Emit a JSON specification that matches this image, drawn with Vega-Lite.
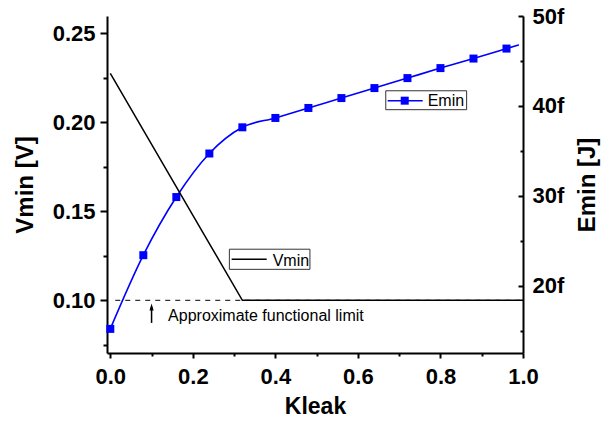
{
  "$schema": "https://vega.github.io/schema/vega-lite/v6.json",
  "width": 416,
  "height": 337,
  "autosize": {"type": "none"},
  "padding": {"left": 107, "top": 16, "right": 87, "bottom": 76},
  "background": "white",
  "config": {
    "view": {"stroke": null},
    "font": "Liberation Sans",
    "axis": {
      "grid": false,
      "domainColor": "black",
      "domainWidth": 2,
      "tickColor": "black",
      "tickWidth": 2,
      "labelFont": "Liberation Sans",
      "labelFontWeight": "bold",
      "labelFontSize": 22,
      "labelColor": "black",
      "labelFlush": false,
      "labelOverlap": false,
      "titleFont": "Liberation Sans",
      "titleFontWeight": "bold",
      "titleFontSize": 23,
      "titleColor": "black"
    }
  },
  "datasets": {
    "emin": [
      {"Kleak": 0.0, "Emin": 15.23},
      {"Kleak": 0.08, "Emin": 23.42},
      {"Kleak": 0.16, "Emin": 29.88},
      {"Kleak": 0.24, "Emin": 34.72},
      {"Kleak": 0.32, "Emin": 37.63},
      {"Kleak": 0.40, "Emin": 38.67},
      {"Kleak": 0.48, "Emin": 39.78},
      {"Kleak": 0.56, "Emin": 40.88},
      {"Kleak": 0.64, "Emin": 41.99},
      {"Kleak": 0.72, "Emin": 43.10},
      {"Kleak": 0.80, "Emin": 44.21},
      {"Kleak": 0.88, "Emin": 45.27},
      {"Kleak": 0.96, "Emin": 46.38},
      {"Kleak": 0.99, "Emin": 46.80}
    ],
    "vmin": [
      {"Kleak": 0.0, "Vmin": 0.2275},
      {"Kleak": 0.08, "Vmin": 0.1956},
      {"Kleak": 0.16, "Vmin": 0.1637},
      {"Kleak": 0.24, "Vmin": 0.1319},
      {"Kleak": 0.32, "Vmin": 0.1},
      {"Kleak": 0.40, "Vmin": 0.1},
      {"Kleak": 0.48, "Vmin": 0.1},
      {"Kleak": 0.56, "Vmin": 0.1},
      {"Kleak": 0.64, "Vmin": 0.1},
      {"Kleak": 0.72, "Vmin": 0.1},
      {"Kleak": 0.80, "Vmin": 0.1},
      {"Kleak": 0.88, "Vmin": 0.1},
      {"Kleak": 0.96, "Vmin": 0.1},
      {"Kleak": 1.0, "Vmin": 0.1}
    ]
  },
  "layer": [
    {
      "layer": [
        {
          "data": {"name": "emin"},
          "mark": {"type": "line", "interpolate": "monotone", "color": "#0000ff", "strokeWidth": 1.6},
          "encoding": {
            "x": {
              "field": "Kleak",
              "type": "quantitative",
              "scale": {"domain": [-0.008, 1.0], "nice": false, "zero": false},
              "axis": {
                "title": "Kleak",
                "values": [0, 0.1, 0.2, 0.3, 0.4, 0.5, 0.6, 0.7, 0.8, 0.9, 1.0],
                "labelExpr": "round(datum.value * 10) % 2 == 0 ? format(datum.value, '.1f') : ''",
                "tickSize": {"condition": {"test": "round(datum.value * 10) % 2 == 0", "value": 5}, "value": 3},
                "labelPadding": 8,
                "titlePadding": 8
              }
            },
            "y": {
              "field": "Emin",
              "type": "quantitative",
              "scale": {"domain": [12.55, 50], "nice": false, "zero": false},
              "axis": {
                "orient": "right",
                "title": "Emin [J]",
                "titleAngle": 270,
                "titleFontSize": 24,
                "values": [15, 20, 25, 30, 35, 40, 45, 50],
                "labelExpr": "datum.value % 10 == 0 ? datum.value + 'f' : ''",
                "tickSize": {"condition": {"test": "datum.value % 10 == 0", "value": -5}, "value": -3},
                "labelPadding": 14,
                "titlePadding": 36
              }
            }
          }
        },
        {
          "data": {"name": "emin"},
          "transform": [{"filter": "datum.Kleak < 0.98"}],
          "mark": {"type": "point", "shape": "square", "filled": true, "size": 64, "color": "#0000ff", "opacity": 1},
          "encoding": {
            "x": {"field": "Kleak", "type": "quantitative"},
            "y": {"field": "Emin", "type": "quantitative"}
          }
        },
        {
          "data": {"values": [{}]},
          "mark": {"type": "rect", "fill": "white", "stroke": "#333333", "strokeWidth": 1},
          "encoding": {
            "x": {"datum": 0.6675, "type": "quantitative"},
            "x2": {"datum": 0.8634},
            "y": {"datum": 41.69, "type": "quantitative"},
            "y2": {"datum": 39.59}
          }
        },
        {
          "data": {"values": [{}]},
          "mark": {"type": "rule", "color": "#0000ff", "strokeWidth": 1.6},
          "encoding": {
            "x": {"datum": 0.672, "type": "quantitative"},
            "x2": {"datum": 0.757},
            "y": {"datum": 40.59, "type": "quantitative"}
          }
        },
        {
          "data": {"values": [{}]},
          "mark": {"type": "point", "shape": "square", "filled": true, "size": 64, "color": "#0000ff", "opacity": 1},
          "encoding": {
            "x": {"datum": 0.7134, "type": "quantitative"},
            "y": {"datum": 40.59, "type": "quantitative"}
          }
        },
        {
          "data": {"values": [{}]},
          "mark": {"type": "text", "align": "left", "baseline": "alphabetic", "font": "Liberation Sans", "fontSize": 16, "color": "black"},
          "encoding": {
            "x": {"datum": 0.769, "type": "quantitative"},
            "y": {"datum": 39.96, "type": "quantitative"},
            "text": {"value": "Emin"}
          }
        }
      ]
    },
    {
      "layer": [
        {
          "data": {"name": "vmin"},
          "mark": {"type": "line", "color": "black", "strokeWidth": 1.5},
          "encoding": {
            "x": {"field": "Kleak", "type": "quantitative"},
            "y": {
              "field": "Vmin",
              "type": "quantitative",
              "scale": {"domain": [0.0704, 0.2597], "nice": false, "zero": false},
              "axis": {
                "orient": "left",
                "title": "Vmin [V]",
                "titleFontSize": 24,
                "values": [0.075, 0.1, 0.125, 0.15, 0.175, 0.2, 0.225, 0.25],
                "labelExpr": "round(datum.value * 1000) % 50 == 0 ? format(datum.value, '.2f') : ''",
                "tickSize": {"condition": {"test": "round(datum.value * 1000) % 50 == 0", "value": 7}, "value": 4},
                "labelPadding": 5,
                "titlePadding": 15
              }
            }
          }
        },
        {
          "data": {"values": [{}]},
          "mark": {"type": "rule", "color": "black", "strokeWidth": 1, "strokeDash": [5, 5]},
          "encoding": {
            "x": {"datum": 0.012, "type": "quantitative"},
            "x2": {"datum": 1.0},
            "y": {"datum": 0.1, "type": "quantitative"}
          }
        },
        {
          "data": {"values": [{}]},
          "mark": {"type": "rule", "color": "black", "strokeWidth": 1.5},
          "encoding": {
            "x": {"datum": 0.1, "type": "quantitative"},
            "y": {"datum": 0.0873, "type": "quantitative"},
            "y2": {"datum": 0.0962}
          }
        },
        {
          "data": {"values": [{}]},
          "mark": {"type": "point", "shape": "M0,-1L0.6,1L-0.6,1Z", "filled": true, "size": 49, "color": "black", "opacity": 1},
          "encoding": {
            "x": {"datum": 0.1, "type": "quantitative"},
            "y": {"datum": 0.0962, "type": "quantitative"}
          }
        },
        {
          "data": {"values": [{}]},
          "mark": {"type": "text", "align": "left", "baseline": "alphabetic", "font": "Liberation Sans", "fontSize": 16, "color": "black"},
          "encoding": {
            "x": {"datum": 0.14, "type": "quantitative"},
            "y": {"datum": 0.0881, "type": "quantitative"},
            "text": {"value": "Approximate functional limit"}
          }
        },
        {
          "data": {"values": [{}]},
          "mark": {"type": "rect", "fill": "white", "stroke": "#333333", "strokeWidth": 1},
          "encoding": {
            "x": {"datum": 0.2885, "type": "quantitative"},
            "x2": {"datum": 0.4837},
            "y": {"datum": 0.1287, "type": "quantitative"},
            "y2": {"datum": 0.1174}
          }
        },
        {
          "data": {"values": [{}]},
          "mark": {"type": "rule", "color": "black", "strokeWidth": 1.5},
          "encoding": {
            "x": {"datum": 0.294, "type": "quantitative"},
            "x2": {"datum": 0.379},
            "y": {"datum": 0.123, "type": "quantitative"}
          }
        },
        {
          "data": {"values": [{}]},
          "mark": {"type": "text", "align": "left", "baseline": "alphabetic", "font": "Liberation Sans", "fontSize": 16, "color": "black"},
          "encoding": {
            "x": {"datum": 0.3935, "type": "quantitative"},
            "y": {"datum": 0.1194, "type": "quantitative"},
            "text": {"value": "Vmin"}
          }
        }
      ]
    }
  ],
  "resolve": {"scale": {"y": "independent"}}
}
